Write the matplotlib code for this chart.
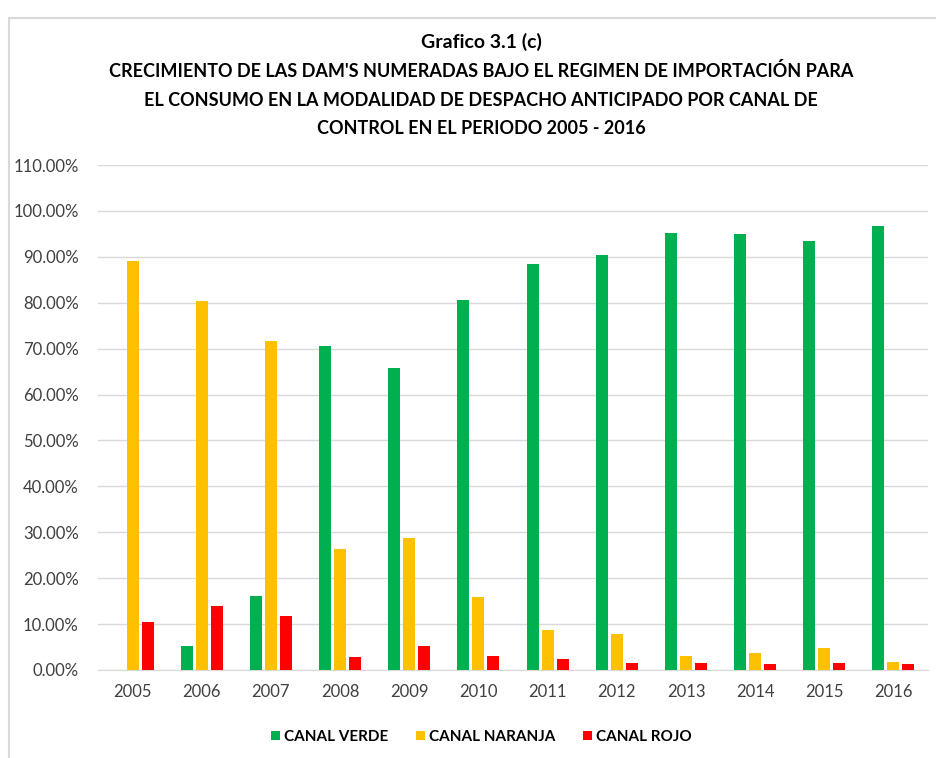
import numpy as np
import matplotlib
matplotlib.use("Agg")
import matplotlib.pyplot as plt
from matplotlib.patches import Rectangle
from matplotlib.ticker import FuncFormatter

# datos (porcentajes)
years = ["2005", "2006", "2007", "2008", "2009", "2010",
         "2011", "2012", "2013", "2014", "2015", "2016"]
canal_verde = [0.0, 5.3, 16.2, 70.5, 65.7, 80.6, 88.4, 90.4, 95.3, 95.0, 93.5, 96.8]
canal_naranja = [89.1, 80.4, 71.6, 26.3, 28.7, 16.0, 8.8, 7.9, 3.1, 3.6, 4.9, 1.8]
canal_rojo = [10.5, 14.0, 11.8, 2.9, 5.3, 3.1, 2.5, 1.6, 1.6, 1.4, 1.6, 1.2]

plt.rcParams['font.family'] = ['Lato', 'DejaVu Sans']

fig = plt.figure(figsize=(9.36, 7.58), dpi=100)
ax = fig.add_axes([0.1047, 0.1161, 0.8868, 0.6662])

x = np.arange(len(years))
w = 0.174
step = 0.217
ax.bar(x - step, canal_verde, w, color="#00b050", label="CANAL VERDE", zorder=3)
ax.bar(x, canal_naranja, w, color="#ffc000", label="CANAL NARANJA", zorder=3)
ax.bar(x + step, canal_rojo, w, color="#ff0000", label="CANAL ROJO", zorder=3)

ax.set_xlim(-0.5, len(years) - 0.5)
ax.set_ylim(0, 110)
ax.set_yticks(np.arange(0, 111, 10))
ax.yaxis.set_major_formatter(FuncFormatter(lambda v, p: "%.2f%%" % v))
ax.set_xticks(x)
ax.set_xticklabels(years)
ax.tick_params(axis="both", length=0, labelsize=12, colors="#404040")
ax.tick_params(axis="x", pad=10)
ax.tick_params(axis="y", pad=14)

ax.grid(axis="y", color="#d9d9d9", linewidth=1, zorder=0)
for s in ["left", "right", "top"]:
    ax.spines[s].set_visible(False)
ax.spines["bottom"].set_color("#d9d9d9")

fig.text(0.514, 0.9446, "Grafico 3.1 (c)", ha="center", va="center",
         fontsize=14, fontweight="bold")
fig.text(0.514, 0.8687,
         "CRECIMIENTO DE LAS DAM'S NUMERADAS BAJO EL REGIMEN DE IMPORTACIÓN PARA\n"
         "EL CONSUMO EN LA MODALIDAD DE DESPACHO ANTICIPADO POR CANAL DE\n"
         "CONTROL EN EL PERIODO 2005 - 2016",
         ha="center", va="center", fontsize=13, fontweight="bold", linespacing=1.8)

leg = fig.legend(loc="center", bbox_to_anchor=(0.514, 0.028), ncol=3, frameon=False,
                 prop={"weight": "bold", "size": 11}, handlelength=0.6, handleheight=0.6,
                 columnspacing=1.8, handletextpad=0.25)

# borde del area del grafico
fig.patches.append(Rectangle((0.0096, -0.05), 1.2, 1.026, transform=fig.transFigure,
                             fill=False, edgecolor="#d9d9d9", linewidth=1.5))

fig.savefig("out.png", dpi=100)
